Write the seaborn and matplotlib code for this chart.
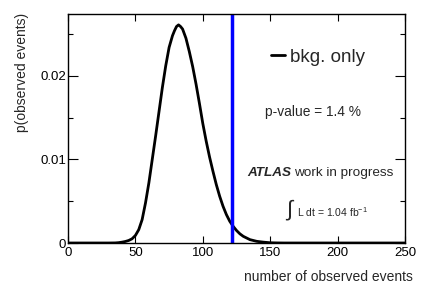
import matplotlib
matplotlib.use("Agg")
import matplotlib.pyplot as plt
import seaborn as sns
import pandas as pd
from matplotlib.ticker import MultipleLocator

# ---- data ----
n_events = [0, 5, 10, 15, 20, 25, 30, 35, 37.5, 40, 42.5, 45, 47.5, 50, 52.5, 55,
            57.5, 60, 62.5, 65, 67.5, 70, 72.5, 75, 77.5, 79, 80.5, 82, 83.5, 85,
            87.5, 90, 92.5, 95, 97.5, 100, 102.5, 105, 107.5, 110, 112.5, 115,
            117.5, 120, 122.5, 125, 127.5, 130, 132.5, 135, 140, 145, 150, 155,
            160, 170, 180, 190, 200, 210, 220, 230, 240, 250]
prob = [0, 0, 0, 0, 0, 0, 0, 0.00001, 0.00004, 0.0001, 0.00018, 0.0003, 0.0005,
        0.0009, 0.0016, 0.0028, 0.0048, 0.0072, 0.0100, 0.0128, 0.0157, 0.0186,
        0.0212, 0.0234, 0.0248, 0.0254, 0.0259, 0.0261, 0.0259, 0.0256, 0.0245,
        0.0229, 0.0211, 0.0190, 0.0167, 0.0143, 0.0122, 0.0103, 0.0086, 0.0070,
        0.0056, 0.0044, 0.0034, 0.0026, 0.0020, 0.0015, 0.0011, 0.0008, 0.0006,
        0.0004, 0.0002, 0.0001, 0.00003, 0.00001, 0, 0, 0, 0, 0, 0, 0, 0, 0, 0]
observed = 122
p_value_text = "p-value = 1.4 %"
series_label = "bkg. only"
lumi_text = r"L dt = 1.04 fb$^{-1}$"

df = pd.DataFrame({"n": n_events, "p": prob})

sns.set_style("ticks")
plt.rcParams["font.family"] = ["Liberation Sans", "DejaVu Sans"]
plt.rcParams["mathtext.fontset"] = "custom"
plt.rcParams["mathtext.rm"] = "Liberation Sans"

fig = plt.figure(figsize=(4.27, 2.90), dpi=100)
ax = fig.add_axes([68/427, 1-243/290, 337/427, 229/290])

sns.lineplot(data=df, x="n", y="p", ax=ax, color="black", linewidth=2.0,
             label=series_label, solid_joinstyle="round", solid_capstyle="round")
ax.axvline(observed, color="#0000ff", linewidth=2.5)

ax.set_xlim(0, 250)
ax.set_ylim(0, 0.0274)
ax.xaxis.set_major_locator(MultipleLocator(50))
ax.yaxis.set_minor_locator(MultipleLocator(0.005))
ax.set_yticks([0, 0.01, 0.02])
ax.set_yticklabels(["0", "0.01", "0.02"])
ax.tick_params(axis="both", which="both", direction="in", top=True, right=True,
               colors="black", width=0.8)
ax.tick_params(axis="x", which="major", length=5, pad=3, labelsize=9.5)
ax.tick_params(axis="y", which="major", length=7, pad=1.5, labelsize=9.5)
ax.tick_params(axis="y", which="minor", length=3.6)
for s in ax.spines.values():
    s.set_linewidth(1.0)
    s.set_color("black")
ax.set_xlabel("")
ax.set_ylabel("")

fig.text(413/427, 1-276.7/290, "number of observed events", ha="right", va="center",
         fontsize=10)
fig.text(22/427, 1-13/290, "p(observed events)", rotation=90, ha="center", va="top",
         fontsize=10)

leg = ax.legend(loc="center left", bbox_to_anchor=(0.603, 0.812), frameon=False,
                fontsize=13.5, handlelength=0.75, handletextpad=0.25,
                borderpad=0, borderaxespad=0)

ax.text(0.585, 0.573, p_value_text, transform=ax.transAxes, ha="left", va="center",
        fontsize=9.9)
ax.text(0.533, 0.304, "ATLAS", transform=ax.transAxes, ha="left", va="center",
        fontsize=9.7, fontweight="bold", fontstyle="italic")
ax.text(0.672, 0.304, "work in progress", transform=ax.transAxes, ha="left",
        va="center", fontsize=9.7)
ax.text(0.659, 0.14, r"$\int$", transform=ax.transAxes, ha="center", va="center",
        fontsize=16)
ax.text(0.679, 0.135, lumi_text, transform=ax.transAxes, ha="left", va="center",
        fontsize=7.5)

fig.savefig("out.png", dpi=100)
